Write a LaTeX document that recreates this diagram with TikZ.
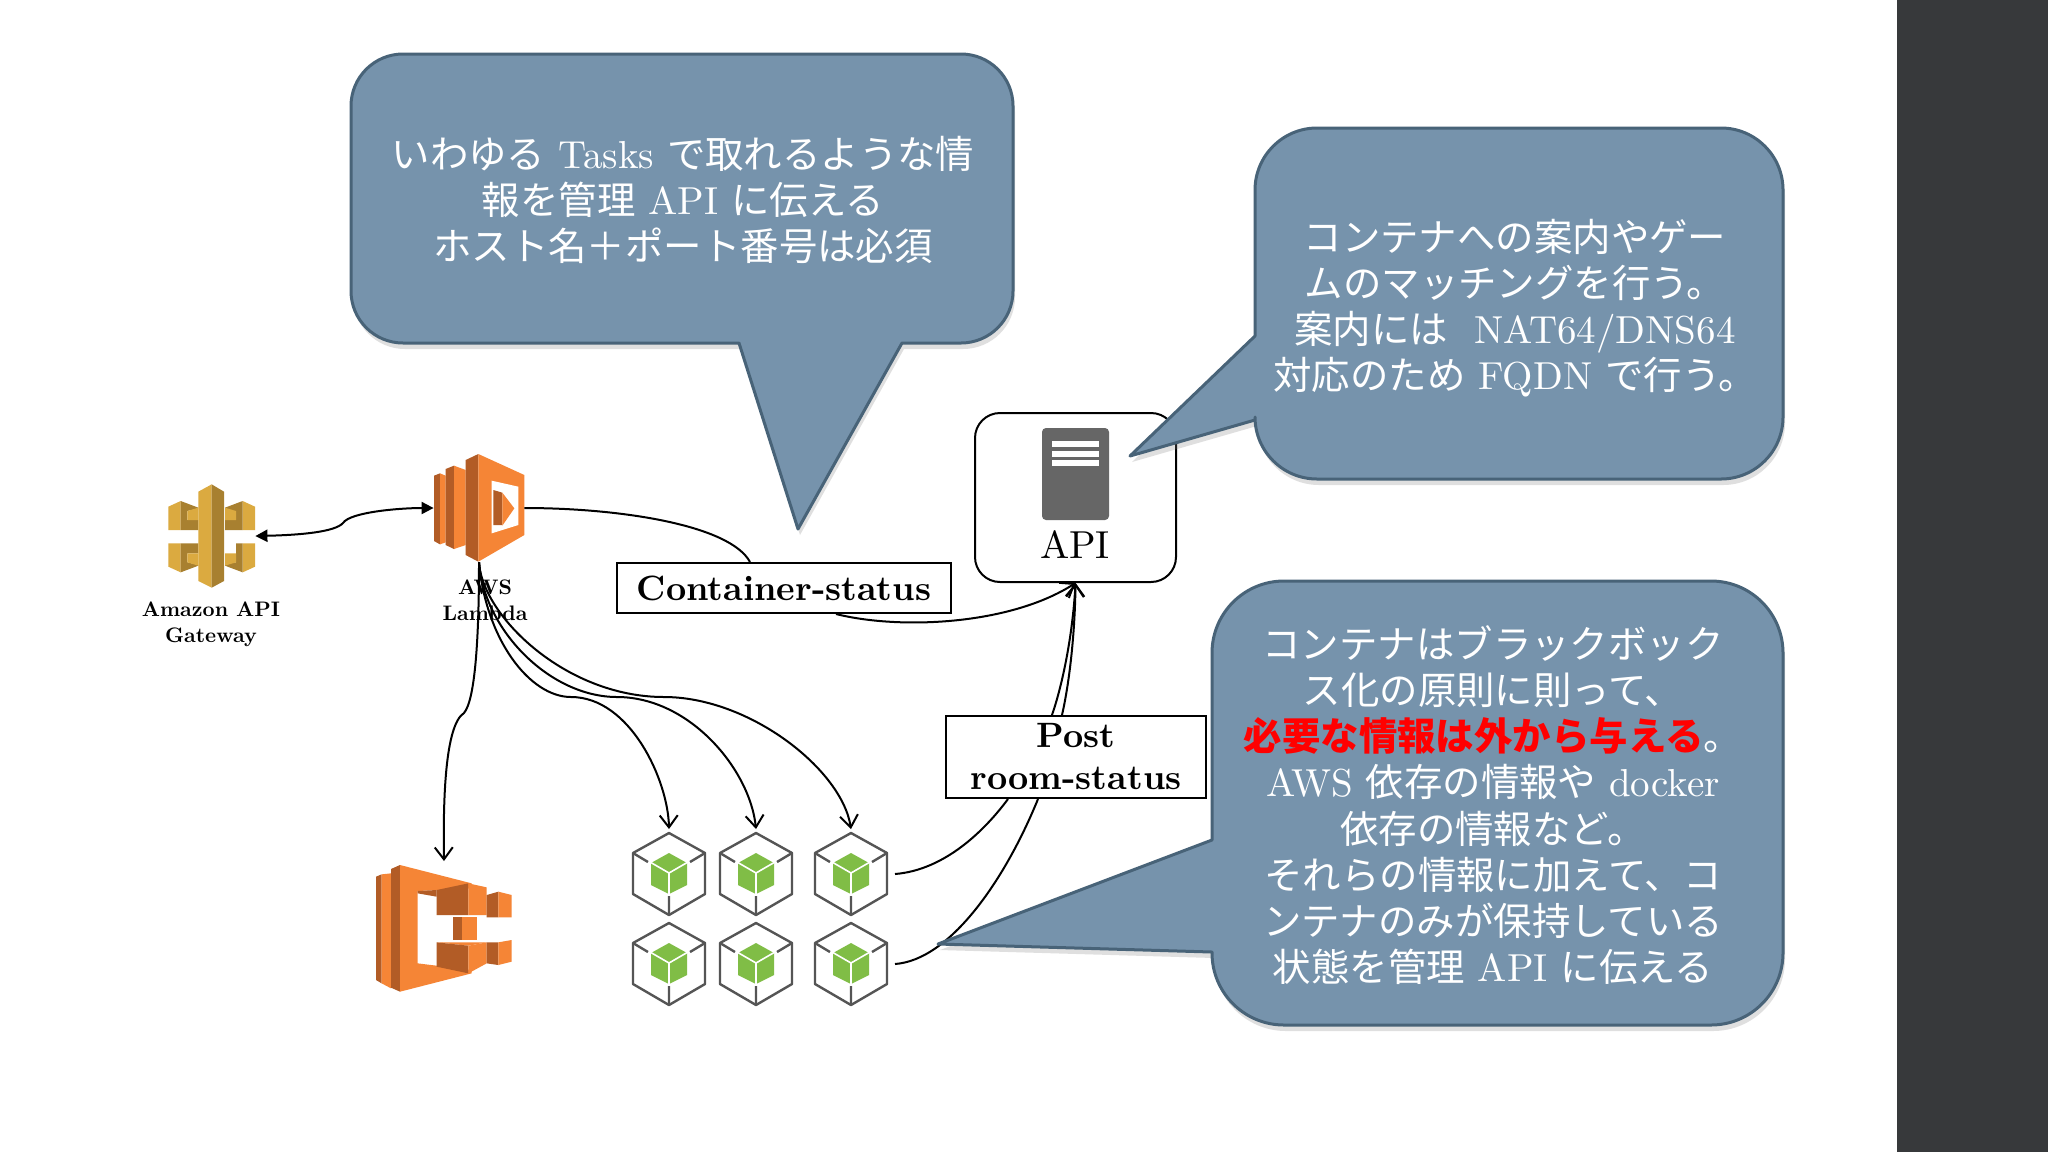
\documentclass[tikz,border=0pt]{standalone}
\usepackage{fontspec}
\setmainfont{lmroman10-regular.otf}[BoldFont=lmroman10-bold.otf]
\newfontfamily\cjk[Scale=0.985]{Noto Sans CJK JP}
\newcommand{\jp}[1]{{\cjk #1}}
\usepackage{tikz}
\usetikzlibrary{positioning,arrows.meta,shadows}
\definecolor{calloutfill}{RGB}{118,147,172}
\definecolor{calloutedge}{RGB}{72,99,120}
\definecolor{panelgray}{RGB}{55,57,59}
\definecolor{awsorange}{RGB}{245,133,54}
\definecolor{awsdark}{RGB}{178,92,38}
\definecolor{gwlight}{RGB}{219,170,64}
\definecolor{gwdark}{RGB}{168,128,48}
\definecolor{cubegreen}{RGB}{128,189,70}
\definecolor{hexgray}{RGB}{85,85,85}
\tikzset{
  conn/.style={line width=1pt,-{Straight Barb[length=6pt,width=9pt]}},
  plainline/.style={line width=1pt},
  callout/.style={fill=calloutfill,draw=calloutedge,line width=1.5pt,line join=round,
    drop shadow={opacity=0.25,shadow xshift=1pt,shadow yshift=-3pt}},
  calltext/.style={text=white,align=center,inner sep=0pt,font=\fontsize{19.5pt}{23.1pt}\selectfont},
  iconbox/.style={inner sep=0pt},
  hexbox/.style={inner sep=0pt,minimum width=36pt,minimum height=41pt,outer xsep=4pt,outer ysep=2pt},
  boldbox/.style={draw,fill=white,line width=1pt,inner sep=0pt,align=center,font=\fontsize{17.6pt}{21pt}\selectfont\bfseries},
  iconlabel/.style={inner sep=0pt,align=center,font=\fontsize{10.5pt}{13pt}\selectfont\bfseries},
  pics/hexcube/.style={code={
    \draw[hexgray,line width=1.2pt,line join=round] (0,-41)--(36,-21)--(36,20)--(0,41)--(-36,20)--(-36,-21)--cycle;
    \draw[hexgray,line width=1.2pt] (-36,-21)--(-21,-12) (36,-21)--(21,-12) (0,41)--(0,22);
    \fill[cubegreen] (0,-21)--(18,-11)--(18,11)--(0,20)--(-18,11)--(-18,-11)--cycle;
    \draw[white,line width=0.8pt] (-19,-12)--(0,-1)--(19,-12) (0,-1)--(0,21);
  }}
}

\begin{document}
\begin{tikzpicture}[x=0.5pt,y=-0.5pt]
\useasboundingbox(0,0)rectangle(2048,1152);
\fill[white](0,0)rectangle(2048,1152);
\fill[panelgray](1897,0)rectangle(2048,1152);% the right panel

\node[iconbox,minimum width=43.5pt,minimum height=52pt](gateway) at (211.5,536){};
\node[iconbox,minimum width=45pt,minimum height=54pt](lambda) at (479,508){};
\node[iconbox,minimum width=68pt,minimum height=63.5pt,outer ysep=2pt](ecs) at (444,928.5){};
\node[draw,line width=1pt,rounded corners=12.5pt,minimum width=100.5pt,minimum height=84.5pt,inner sep=0pt](api) at (1075.5,497.5){};
\node[boldbox,minimum width=167pt,minimum height=25pt](status) at (784,588){Container-status};
\node[boldbox,minimum width=130pt,minimum height=41pt](room) at (1076,757){Post\\room-status};
\node[iconlabel](gatewaylabel) at (211,624.5){Amazon API\\Gateway};
\node[iconlabel](lambdalabel) at (485,600){AWS\\Lambda};
\node[inner sep=0pt,font=\fontsize{19.5pt}{23pt}\selectfont](apilabel) at (1075,545){API};

% the gateway icon
\begin{scope}[shift={(160,475)},x=0.16667pt,y=-0.16667pt]
\fill[gwlight](25,95)--(62,78)--(62,165)--(25,165)--cycle;
\fill[gwdark](62,78)--(115,98)--(115,100)--(82,108)--(82,135)--(115,135)--(115,165)--(62,165)--cycle;
\fill[gwlight](82,108)--(115,98)--(115,135)--(82,135)--cycle;
\fill[gwlight](285,95)--(248,78)--(248,165)--(285,165)--cycle;
\fill[gwdark](248,78)--(195,98)--(195,165)--(248,165)--cycle;
\fill[gwlight](228,108)--(195,98)--(195,135)--(228,135)--cycle;
\fill[gwlight](25,275)--(62,292)--(62,205)--(25,205)--cycle;
\fill[gwdark](62,292)--(115,272)--(115,270)--(82,262)--(82,235)--(115,235)--(115,205)--(62,205)--cycle;
\fill[gwlight](82,262)--(115,272)--(115,235)--(82,235)--cycle;
\fill[gwlight](285,275)--(248,292)--(248,205)--(285,205)--cycle;
\fill[gwdark](248,292)--(195,272)--(195,262)--(228,262)--(228,205)--(248,205)--cycle;
\fill[gwlight](228,262)--(195,272)--(195,235)--(228,235)--cycle;
\fill[gwlight](115,50)--(155,28)--(155,338)--(115,318)--cycle;% center bar
\fill[gwdark](155,28)--(192,50)--(192,318)--(155,338)--cycle;
\end{scope}

% the lambda icon
\begin{scope}[shift={(425,445)},x=0.16667pt,y=-0.16667pt]
\fill[awsdark](27,92)--(45,85)--(45,298)--(27,288)--cycle;
\fill[awsorange](45,85)--(62,92)--(62,292)--(45,298)--cycle;
\fill[awsdark](62,72)--(87,62)--(87,312)--(62,300)--cycle;
\fill[awsorange](87,62)--(122,75)--(122,300)--(87,312)--cycle;
\fill[awsdark](122,45)--(160,27)--(160,350)--(122,330)--cycle;
\fill[awsorange](160,27)--(298,90)--(298,270)--(160,350)--cycle;
\fill[white](200,107)--(280,125)--(280,240)--(200,265)--cycle;
\fill[awsdark](205,135)--(232,143)--(232,240)--(205,240)--cycle;
\fill[awsorange](232,143)--(268,190)--(232,242)--cycle;
\end{scope}

% the container service icon
\begin{scope}[shift={(365,855)},x=0.16667pt,y=-0.16667pt]
\fill[awsdark](33,65)--(50,58)--(50,385)--(33,375)--cycle;
\fill[awsorange](50,58)--(78,55)--(78,400)--(50,385)--cycle;
\fill[awsdark](78,42)--(105,30)--(105,410)--(78,398)--cycle;
\fill[awsorange](105,30)--(320,85)--(320,100)--(158,108)--(158,325)--(320,345)--(320,355)--(105,410)--cycle;
\fill[awsdark](158,108)--(215,105)--(215,125)--(158,115)--cycle;
\fill[awsdark](215,105)--(310,85)--(310,180)--(215,180)--cycle;
\fill[awsorange](310,85)--(365,97)--(365,180)--(310,180)--cycle;
\fill[awsdark](365,120)--(400,110)--(400,187)--(365,187)--cycle;
\fill[awsorange](400,110)--(440,120)--(440,187)--(400,187)--cycle;
\fill[awsdark](265,187)--(290,187)--(290,255)--(265,255)--cycle;
\fill[awsorange](290,187)--(335,187)--(335,255)--(290,255)--cycle;
\fill[awsorange](215,262)--(365,262)--(310,272)--cycle;
\fill[awsdark](215,262)--(310,272)--(310,355)--(215,335)--cycle;
\fill[awsorange](310,272)--(365,262)--(365,325)--(310,355)--cycle;
\fill[awsdark](365,262)--(400,262)--(400,330)--(365,325)--cycle;
\fill[awsorange](400,262)--(440,255)--(440,320)--(400,330)--cycle;
\end{scope}

% the server in the api box
\fill[hexgray!90!white,rounded corners=2pt](1042,428)rectangle(1109,520);
\fill[white](1052,441)rectangle(1099,447);
\fill[white](1052,451)rectangle(1099,457);
\fill[white](1052,460)rectangle(1099,466);

% the six containers
\foreach \col/\cx in {1/669,2/756,3/851}
  \foreach \row/\cy in {a/874,b/964}{
    \node[hexbox](hex\row\col) at (\cx,\cy){};
    \pic at (\cx,\cy) {hexcube};
  }

% connectors
\draw[line width=1pt,{Triangle[length=6pt,width=6pt]}-{Triangle[length=6pt,width=6pt]}](gateway.east) .. controls (300,535) and (335,532) .. (343,523) .. controls (350,512) and (400,508) .. (lambda.west);
\draw[conn](lambda.south) .. controls (479,640) and (475,700) .. (464,713) .. controls (445,725) and (443,800) .. (ecs.north);
\draw[conn](lambda.south) .. controls (486,640) and (530,697) .. (571,697) .. controls (630,697) and (668,780) .. (hexa1.north);
\draw[conn](lambda.south) .. controls (484,630) and (550,697) .. (617,697) .. controls (690,697) and (750,770) .. (hexa2.north);
\draw[conn](lambda.south) .. controls (482,615) and (565,697) .. (664,697) .. controls (750,697) and (842,770) .. (hexa3.north);
\draw[plainline](lambda.east) .. controls (620,508) and (730,525) .. ([xshift=-17pt]status.north);
\draw[conn]([xshift=26pt]status.south) .. controls (900,630) and (1010,625) .. (api.south);
\draw[plainline](hexa3.east) .. controls (945,870) and (985,830) .. ([xshift=-34pt]room.south);
\draw[plainline](hexb3.east) .. controls (950,960) and (1005,880) .. ([xshift=-19pt]room.south);
\draw[conn]([xshift=-12pt]room.north) .. controls (1064,680) and (1073,630) .. (api.south);
\draw[conn]([xshift=-7pt]room.north) .. controls (1070,680) and (1075,630) .. (api.south);

% the three callouts
\draw[callout](902,343)[rounded corners=26pt]--(1013,343)--(1013,54)--(351,54)--(351,343)[sharp corners]--(739,343)--(798,529)--cycle;
\draw[callout](1255,420)[rounded corners=31pt]--(1255,479)--(1783,479)--(1783,128)--(1255,128)[sharp corners]--(1255,336)--(1130,456)--cycle;
\draw[callout](1212,952)[rounded corners=36pt]--(1212,1025)--(1783,1025)--(1783,581)--(1212,581)[sharp corners]--(1212,840)--(938,944)--cycle;

\node[calltext](topnote) at (683,200){\jp{いわゆる} Tasks \jp{で取れるような情}\\\jp{報を管理} API \jp{に伝える}\\\jp{ホスト名＋ポート番号は必須}};
\node[calltext](apinote) at (1515,308){\jp{コンテナへの案内やゲー}\\\jp{ムのマッチングを行う。}\\\jp{案内には} \ NAT64/DNS64\\\jp{対応のため} FQDN \jp{で行う。}};
\node[calltext](containernote) at (1493,805){\jp{コンテナはブラックボック}\\\jp{ス化の原則に則って、}\\\jp{\bfseries\color{red}必要な情報は外から与える}\jp{。}\\AWS \jp{依存の情報や} docker\\\jp{依存の情報など。}\\\jp{それらの情報に加えて、コ}\\\jp{ンテナのみが保持している}\\\jp{状態を管理} API \jp{に伝える}};

\end{tikzpicture}
\end{document}
